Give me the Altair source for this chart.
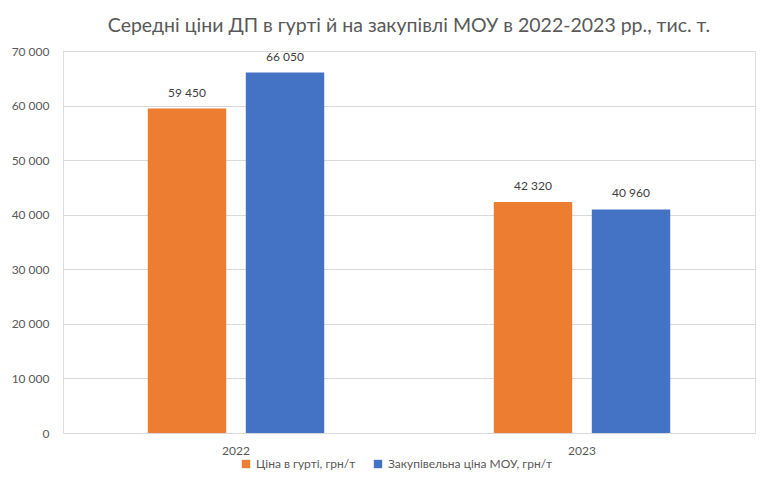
import altair as alt
import pandas as pd

years = ["2022", "2022", "2023", "2023"]
series = ["Ціна в гурті, грн/т", "Закупівельна ціна МОУ, грн/т",
          "Ціна в гурті, грн/т", "Закупівельна ціна МОУ, грн/т"]
values = [59450, 66050, 42320, 40960]
series_order = ["Ціна в гурті, грн/т", "Закупівельна ціна МОУ, грн/т"]
colors = ["#ED7D31", "#4472C4"]
y_ticks = [0, 10000, 20000, 30000, 40000, 50000, 60000, 70000]

df = pd.DataFrame({"year": years, "series": series, "value": values})

FONT = "Lato"
TXT = "#595959"

base = alt.Chart(df).encode(
    x=alt.X("year:N", title=None,
            scale=alt.Scale(paddingInner=0.49, paddingOuter=0.245),
            axis=alt.Axis(labelAngle=0, ticks=False, domainColor="#D9D9D9",
                          labelColor=TXT, labelFont=FONT, labelFontSize=12,
                          labelPadding=12)),
    xOffset=alt.XOffset("series:N", sort=series_order,
                        scale=alt.Scale(paddingInner=0.2, paddingOuter=0)),
)

bars = base.mark_bar().encode(
    y=alt.Y("value:Q", title=None,
            scale=alt.Scale(domain=[0, 70000], nice=False),
            axis=alt.Axis(values=y_ticks, domain=False, ticks=False,
                          gridColor="#D9D9D9", labelColor=TXT, labelFont=FONT,
                          labelFontSize=12, labelPadding=14,
                          labelExpr="replace(datum.label, ',', ' ')",
                          minExtent=55, maxExtent=55)),
    color=alt.Color("series:N", sort=series_order,
                    scale=alt.Scale(domain=series_order, range=colors),
                    legend=alt.Legend(title=None, orient="none", direction="horizontal",
                                      legendX=177, legendY=407,
                                      symbolType="square", symbolSize=70,
                                      symbolStrokeWidth=0, labelLimit=300,
                                      labelFont=FONT, labelFontSize=12, labelColor=TXT,
                                      columnPadding=16, labelOffset=4)),
)

labels = base.mark_text(baseline="bottom", dy=-9, font=FONT, fontSize=12,
                        color="#404040").encode(
    y=alt.Y("value:Q"),
    text=alt.Text("label:N"),
).transform_calculate(label="replace(format(datum.value, ',d'), ',', ' ')")

chart = alt.layer(bars, labels).properties(
    width=692, height=382,
    padding={"left": 0, "top": 7, "right": 10, "bottom": 5},
    title=alt.TitleParams(
        "Середні ціни ДП в гурті й на закупівлі МОУ в 2022-2023 рр., тис. т.",
        font=FONT, fontSize=19.5, fontWeight="normal", color=TXT,
        anchor="middle", offset=9),
).configure_view(stroke=None).configure(background="white")

chart.save("out.html", embed_options={"renderer": "svg", "actions": False})
